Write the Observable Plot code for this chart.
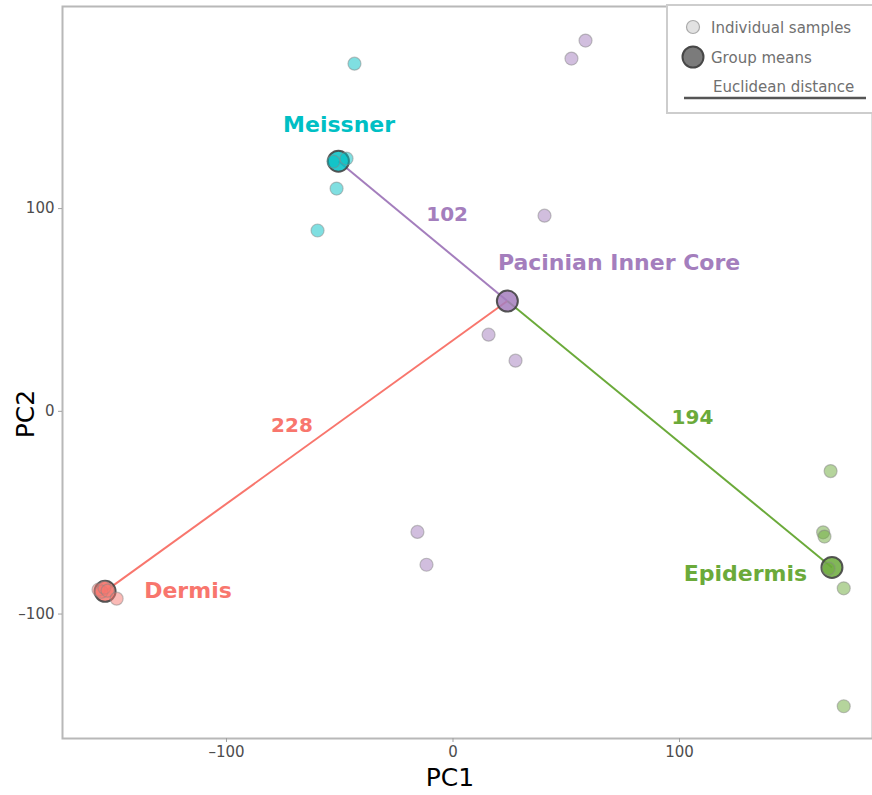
<!DOCTYPE html>
<html>
<head>
<meta charset="utf-8">
<script src="https://cdn.jsdelivr.net/npm/d3@7"></script>
<script src="https://cdn.jsdelivr.net/npm/@observablehq/plot@0.6"></script>
<style>
  html, body { margin: 0; padding: 0; background: #fff; }
  #wrap { position: relative; width: 872px; height: 795px; overflow: hidden; font-family: "DejaVu Sans", sans-serif; }
  #chart svg { display: block; }
  .axis-title { position: absolute; font-size: 25px; color: #000; white-space: nowrap; }
  #legend { position: absolute; left: 666px; top: 4px; width: 220px; height: 106px; background: #fff; border: 2px solid #cdcdcd; box-sizing: content-box; }
</style>
</head>
<body>
<div id="wrap">
  <div id="chart"></div>
  <div class="axis-title" id="xtitle">PC1</div>
  <div class="axis-title" id="ytitle">PC2</div>
  <div id="legend"></div>
</div>
<script>
// ---- data ----
const groups = ["Meissner", "Pacinian Inner Core", "Dermis", "Epidermis"];
const groupColors = ["#00BFC4", "#A47EBD", "#F8766D", "#6BAA3A"];

const sampleGroup = [
  "Meissner", "Meissner", "Meissner", "Meissner", "Meissner",
  "Pacinian Inner Core", "Pacinian Inner Core", "Pacinian Inner Core", "Pacinian Inner Core",
  "Pacinian Inner Core", "Pacinian Inner Core", "Pacinian Inner Core",
  "Dermis", "Dermis", "Dermis", "Dermis", "Dermis",
  "Epidermis", "Epidermis", "Epidermis", "Epidermis", "Epidermis", "Epidermis"
];
const samplePC1 = [
  -43.5, -47.0, -52.8, -51.4, -59.8,
  58.5, 52.3, 40.4, 15.7, 27.6, -15.7, -11.7,
  -156.5, -155.2, -153.9, -152.5, -148.5,
  166.7, 163.4, 164.0, 165.8, 172.5, 172.5
];
const samplePC2 = [
  171.5, 124.7, 123.2, 109.9, 89.2,
  182.9, 174.0, 96.5, 37.8, 25.0, -59.5, -75.7,
  -88.0, -89.0, -87.0, -88.5, -92.4,
  -29.5, -59.7, -61.8, -77.6, -87.3, -145.5
];

const meanPC1 = [-50.6, 24.0, -153.6, 167.3];
const meanPC2 = [123.4, 54.4, -88.8, -77.0];

const groupLabelPC1 = [-50.3, 73.3, -117.0, 129.1];
const groupLabelPC2 = [141.4, 73.4, -88.6, -80.0];

const distFrom = ["Pacinian Inner Core", "Pacinian Inner Core", "Pacinian Inner Core"];
const distTo = ["Meissner", "Dermis", "Epidermis"];
const distColorGroup = ["Pacinian Inner Core", "Dermis", "Epidermis"];
const distValue = [102, 228, 194];
const distLabelPC1 = [-2.6, -71.1, 105.7];
const distLabelPC2 = [97.0, -7.1, -3.1];

const xTicks = [-100, 0, 100];
const yTicks = [-100, 0, 100];

const legendLabels = ["Individual samples", "Group means", "Euclidean distance"];

// ---- build tables ----
const samples = sampleGroup.map((g, i) => ({group: g, pc1: samplePC1[i], pc2: samplePC2[i]}));
const means = groups.map((g, i) => ({group: g, pc1: meanPC1[i], pc2: meanPC2[i], lx: groupLabelPC1[i], ly: groupLabelPC2[i]}));
const meanOf = g => means.find(m => m.group === g);
const links = distTo.map((t, i) => ({
  x1: meanOf(distFrom[i]).pc1, y1: meanOf(distFrom[i]).pc2,
  x2: meanOf(t).pc1, y2: meanOf(t).pc2,
  group: distColorGroup[i], value: distValue[i],
  lx: distLabelPC1[i], ly: distLabelPC2[i]
}));

const fmt = d => d < 0 ? "\u2013" + Math.abs(d) : String(d);

const chart = Plot.plot({
  width: 872,
  height: 795,
  marginLeft: 62,
  marginRight: 0,
  marginTop: 6,
  marginBottom: 57,
  style: {background: "#fff", fontFamily: "DejaVu Sans, sans-serif"},
  x: {domain: [-172.4, 185.2], label: null, axis: null},
  y: {domain: [-161.4, 199.7], label: null, axis: null},
  color: {type: "ordinal", domain: groups, range: groupColors},
  marks: [
    Plot.frame({stroke: "#b8b8b8", strokeWidth: 2}),
    Plot.axisX(xTicks, {tickSize: 4, tickFormat: () => "", color: "#a0a0a0", label: null}),
    Plot.axisY(yTicks, {tickSize: 4, tickFormat: () => "", color: "#a0a0a0", label: null}),
    Plot.text(xTicks, {x: d => d, frameAnchor: "bottom", dy: 8, lineAnchor: "top", text: fmt, fontSize: 15, fill: "#4d4d4d"}),
    Plot.text(yTicks, {y: d => d, frameAnchor: "left", dx: -8, textAnchor: "end", text: fmt, fontSize: 15, fill: "#4d4d4d"}),
    Plot.link(links, {x1: "x1", y1: "y1", x2: "x2", y2: "y2", stroke: "group", strokeWidth: 2}),
    Plot.dot(means, {x: "pc1", y: "pc2", r: 10.5, fill: "group", fillOpacity: 0.85, stroke: "#444", strokeOpacity: 0.9, strokeWidth: 2}),
    Plot.dot(samples, {x: "pc1", y: "pc2", r: 6.5, fill: "group", fillOpacity: 0.5, stroke: "#888", strokeOpacity: 0.5, strokeWidth: 1.2}),
    Plot.text(means, {x: "lx", y: "ly", text: "group", fill: "group", fontSize: 22, fontWeight: "bold"}),
    Plot.text(links, {x: "lx", y: "ly", text: d => String(d.value), fill: "group", fontSize: 20, fontWeight: "bold"})
  ]
});
document.getElementById("chart").appendChild(chart);

// axis titles (overlay)
const xt = document.getElementById("xtitle");
xt.style.left = "450px"; xt.style.top = "777px"; xt.style.transform = "translate(-50%, -50%)";
const yt = document.getElementById("ytitle");
yt.style.left = "25px"; yt.style.top = "414px"; yt.style.transform = "translate(-50%, -50%) rotate(-90deg)";

// legend (overlay)
const lg = d3.select("#legend").append("svg").attr("width", 220).attr("height", 106)
  .style("font-family", "DejaVu Sans, sans-serif");
lg.append("circle").attr("cx", 25).attr("cy", 21).attr("r", 6.5)
  .attr("fill", "#e2e2e2").attr("stroke", "#aaa").attr("stroke-width", 1.2);
lg.append("circle").attr("cx", 25).attr("cy", 51).attr("r", 10.5)
  .attr("fill", "#7b7b7b").attr("stroke", "#474747").attr("stroke-width", 2);
lg.append("line").attr("x1", 16).attr("x2", 198).attr("y1", 92).attr("y2", 92)
  .attr("stroke", "#555").attr("stroke-width", 2.5);
const ly = [26.5, 56.5, 86];
const lxs = [43, 43, 45];
legendLabels.forEach((t, i) => {
  lg.append("text").attr("x", lxs[i]).attr("y", ly[i]).attr("fill", "#707070")
    .attr("font-size", 15).text(t);
});
</script>
</body>
</html>
